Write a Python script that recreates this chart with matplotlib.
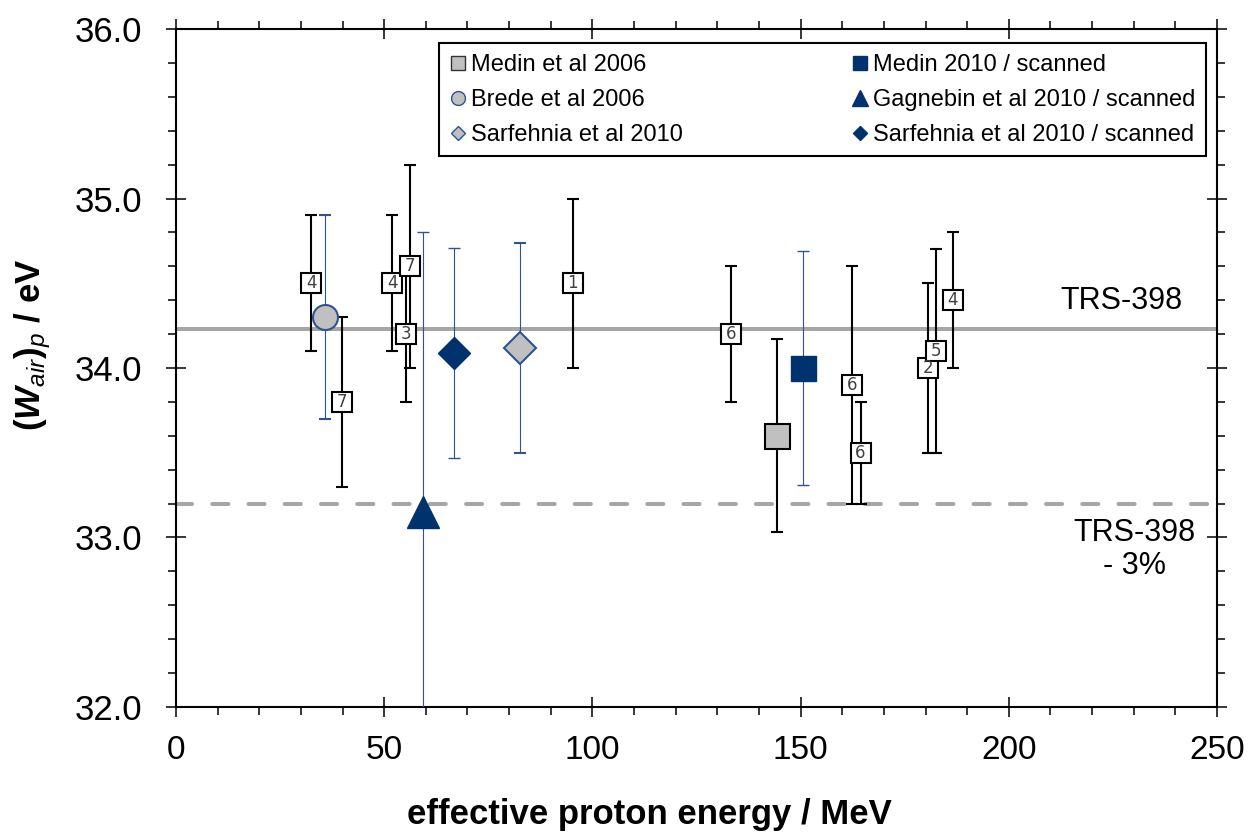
import matplotlib
matplotlib.use('Agg')
import matplotlib.pyplot as plt
from matplotlib.lines import Line2D
from matplotlib.ticker import MultipleLocator

plt.rcParams['font.family'] = ['Liberation Sans', 'DejaVu Sans']
plt.rcParams['mathtext.fontset'] = 'custom'
plt.rcParams['mathtext.rm'] = 'Liberation Sans'
plt.rcParams['mathtext.it'] = 'Liberation Sans:italic'
plt.rcParams['mathtext.bf'] = 'Liberation Sans:bold'
plt.rcParams['mathtext.bfit'] = 'Liberation Sans:italic:bold'

# numbered reference points (boxes with a number)
num_x = [32.5, 39.9, 51.9, 55.2, 56.2, 95.3, 133.3, 162.3, 164.4, 180.5, 182.5, 186.5]
num_y = [34.5, 33.8, 34.5, 34.2, 34.6, 34.5, 34.2, 33.9, 33.5, 34.0, 34.1, 34.4]
num_err = [0.4, 0.5, 0.4, 0.4, 0.6, 0.5, 0.4, 0.7, 0.3, 0.5, 0.6, 0.4]
num_labels = ['4', '7', '4', '3', '7', '1', '6', '6', '6', '2', '5', '4']

# named data sets
medin06_x, medin06_y, medin06_err = [144.3], [33.6], [0.57]
medin10_x, medin10_y, medin10_err = [150.5], [34.0], [0.69]
brede_x, brede_y, brede_err = [35.9], [34.3], [0.6]
gagnebin_x, gagnebin_y, gagnebin_err = [59.2], [33.15], [1.65]
sarf_scan_x, sarf_scan_y, sarf_scan_err = [66.8], [34.09], [0.62]
sarf10_x, sarf10_y, sarf10_err = [82.6], [34.12], [0.62]

trs398 = 34.23
trs398_minus3 = 33.20

navy = '#00336e'
blue = '#2e5395'
gray = '#c0c0c0'
linegray = '#a6a6a6'

fig, ax = plt.subplots(figsize=(12.49, 8.34), dpi=100)
plt.subplots_adjust(left=0.1409, right=0.9744, top=0.9652, bottom=0.1523)

# reference lines
ax.axhline(trs398, color=linegray, lw=2.9, zorder=1)
ax.axhline(trs398_minus3, color=linegray, lw=2.9, dashes=(4, 5),
           dash_capstyle='round', zorder=1)

# numbered points
ax.errorbar(num_x, num_y, yerr=num_err, fmt='none', ecolor='black',
            elinewidth=1.5, capsize=4.5, capthick=1.5, zorder=2)
for x, y, lab in zip(num_x, num_y, num_labels):
    ax.plot(x, y, 's', ms=14.5, mfc='white', mec='black', mew=1.5, zorder=3)
    ax.text(x, y, lab, ha='center', va='center', fontsize=12,
            family='DejaVu Sans', color='#404040', zorder=4)

# data sets
ax.errorbar(medin06_x, medin06_y, yerr=medin06_err, fmt='s', ms=18,
            mfc=gray, mec='black', mew=1.5, ecolor='black', elinewidth=1.5,
            capsize=4.5, capthick=1.5, zorder=3)
ax.errorbar(medin10_x, medin10_y, yerr=medin10_err, fmt='s', ms=18,
            mfc=navy, mec=navy, mew=1, ecolor=blue, elinewidth=0.8,
            capsize=4.5, capthick=0.8, zorder=3)
ax.errorbar(brede_x, brede_y, yerr=brede_err, fmt='o', ms=18,
            mfc=gray, mec=blue, mew=1.5, ecolor=blue, elinewidth=0.8,
            capsize=4.5, capthick=0.8, zorder=3)
ax.errorbar(gagnebin_x, gagnebin_y, yerr=gagnebin_err, fmt='^', ms=23,
            mfc=navy, mec=navy, mew=1, ecolor=blue, elinewidth=0.8,
            capsize=4.5, capthick=0.8, zorder=3)
ax.errorbar(sarf_scan_x, sarf_scan_y, yerr=sarf_scan_err, fmt='D', ms=16,
            mfc=navy, mec=navy, mew=1, ecolor=blue, elinewidth=0.8,
            capsize=4.5, capthick=0.8, zorder=3)
ax.errorbar(sarf10_x, sarf10_y, yerr=sarf10_err, fmt='D', ms=16,
            mfc=gray, mec=blue, mew=1.5, ecolor=blue, elinewidth=0.8,
            capsize=4.5, capthick=0.8, zorder=3)

# line labels
ax.text(241.8, 34.395, 'TRS-398', ha='right', va='center', fontsize=22)
ax.text(230.1, 32.93, 'TRS-398\n- 3%', ha='center', va='center',
        multialignment='center', fontsize=22, linespacing=1.1)

ax.set_xlim(0, 250)
ax.set_ylim(32, 36)
ax.xaxis.set_major_locator(MultipleLocator(50))
ax.xaxis.set_minor_locator(MultipleLocator(10))
ax.yaxis.set_major_locator(MultipleLocator(1))
ax.yaxis.set_minor_locator(MultipleLocator(0.2))
ax.yaxis.set_major_formatter(matplotlib.ticker.FormatStrFormatter('%.1f'))

ax.tick_params(which='major', direction='inout', length=14.4, width=1.1,
               top=True, right=True)
ax.tick_params(which='minor', direction='out', length=5.8, width=1.1,
               top=True, right=True)
ax.tick_params(axis='y', which='major', labelsize=25, pad=17)
ax.tick_params(axis='x', which='major', labelsize=24, pad=13)
for s in ax.spines.values():
    s.set_linewidth(1.5)

ax.set_xlabel('effective proton energy / MeV', fontsize=25, fontweight='bold')
ax.xaxis.set_label_coords(0.455, -0.172)
ax.xaxis.label.set_va('baseline')
ax.set_ylabel(r'$\mathbf{(}\mathbfit{W}_{\mathit{air}}\mathbf{)}_{\mathit{p}}\mathbf{\ /\ eV}$',
              fontsize=25)
ax.yaxis.set_label_coords(-0.118, 0.534)

handles = [
    Line2D([], [], ls='none', marker='s', ms=10, mfc=gray, mec='#333333', mew=1),
    Line2D([], [], ls='none', marker='o', ms=10, mfc=gray, mec=blue, mew=1),
    Line2D([], [], ls='none', marker='D', ms=7.5, mfc=gray, mec=blue, mew=1),
    Line2D([], [], ls='none', marker='s', ms=10, mfc=navy, mec=navy, mew=1),
    Line2D([], [], ls='none', marker='^', ms=11, mfc=navy, mec=navy, mew=1),
    Line2D([], [], ls='none', marker='D', ms=7.5, mfc=navy, mec=navy, mew=1),
]
labels = ['Medin et al 2006', 'Brede et al 2006', 'Sarfehnia et al 2010',
          'Medin 2010 / scanned', 'Gagnebin et al 2010 / scanned',
          'Sarfehnia et al 2010 / scanned']
leg = ax.legend(handles, labels, ncol=2, loc='upper left',
                bbox_to_anchor=(0.2526, 0.811, 0.7368, 0.168), mode='expand',
                borderaxespad=0, fontsize=17, handlelength=0.7,
                handletextpad=0.2, labelspacing=0.55, borderpad=0.45,
                fancybox=False, framealpha=1, edgecolor='black')
leg.get_frame().set_linewidth(1.5)

fig.savefig('out.png', dpi=100)
